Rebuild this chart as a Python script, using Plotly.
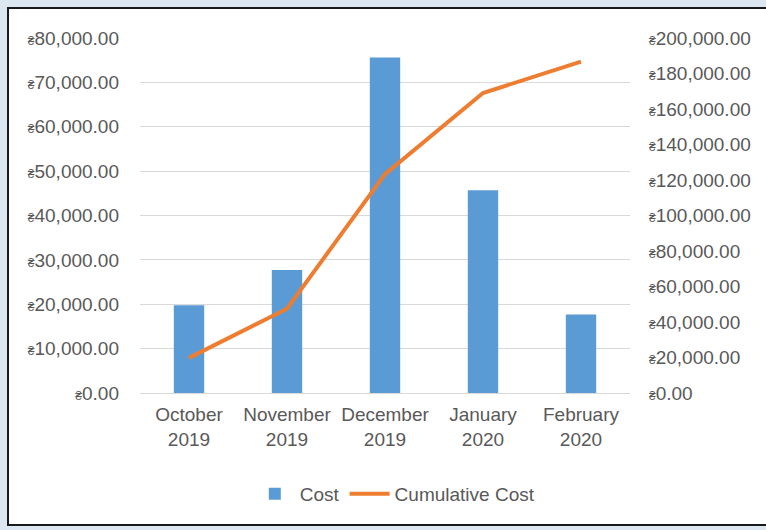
import plotly.graph_objects as go

months = ["October<br>2019", "November<br>2019", "December<br>2019", "January<br>2020", "February<br>2020"]
cost = [19800, 27700, 75600, 45700, 17700]
cumulative_cost = [19800, 47500, 123300, 169000, 186700]

left_ticks = [0, 10000, 20000, 30000, 40000, 50000, 60000, 70000, 80000]
right_ticks = [0, 20000, 40000, 60000, 80000, 100000, 120000, 140000, 160000, 180000, 200000]

SYM = '<span style="font-size:12px">₴</span>'
def fmt(v):
    return SYM + f"{v:,.2f}"

FONT = "Liberation Sans, Arial, sans-serif"
GREY = "#595959"

fig = go.Figure()
fig.add_trace(go.Bar(x=months, y=cost, name="Cost", marker_color="#5B9BD5",
                     marker_line_width=0, yaxis="y"))
fig.add_trace(go.Scatter(x=months, y=cumulative_cost, name="Cumulative Cost",
                         mode="lines", line=dict(color="#ED7D31", width=4), yaxis="y2"))

L, R, T, B = 140, 136, 38, 137
W, H = 766, 530
pw, ph = W - L - R, H - T - B

def px_x(x):
    return (x - L) / pw

def px_y(y):
    return (H - B - y) / ph

fig.update_layout(
    width=W, height=H,
    margin=dict(l=L, r=R, t=T, b=B, pad=0),
    paper_bgcolor="#dde7f2",
    plot_bgcolor="rgba(0,0,0,0)",
    font=dict(family=FONT, size=19, color=GREY),
    bargap=0.69,
    showlegend=True,
    legend=dict(orientation="h", x=0.52, xanchor="center", y=px_y(494), yanchor="middle",
                font=dict(size=19, color=GREY), itemwidth=40, bgcolor="rgba(0,0,0,0)"),
    xaxis=dict(showgrid=False, showline=False, ticks="", ticklabelstandoff=8,
               tickfont=dict(size=19, color=GREY), range=[-0.5, 4.5]),
    yaxis=dict(range=[0, 80000], tickvals=left_ticks, ticktext=[fmt(v) for v in left_ticks],
               showgrid=True, gridcolor="#d9d9d9", gridwidth=1, zeroline=True,
               zerolinecolor="#d9d9d9", zerolinewidth=1, showline=False, ticks="",
               ticklabelstandoff=20, tickfont=dict(size=19, color=GREY)),
    yaxis2=dict(range=[0, 200000], tickvals=right_ticks, ticktext=[fmt(v) for v in right_ticks],
                overlaying="y", side="right", showgrid=False, zeroline=False, showline=False,
                ticks="", ticklabelstandoff=18, tickfont=dict(size=19, color=GREY)),
    shapes=[dict(type="rect", xref="paper", yref="paper", layer="below",
                 x0=px_x(8), x1=px_x(780), y0=px_y(525), y1=px_y(8),
                 fillcolor="white", line=dict(color="#1a1a1a", width=2))],
)

fig.write_html("out.html")
